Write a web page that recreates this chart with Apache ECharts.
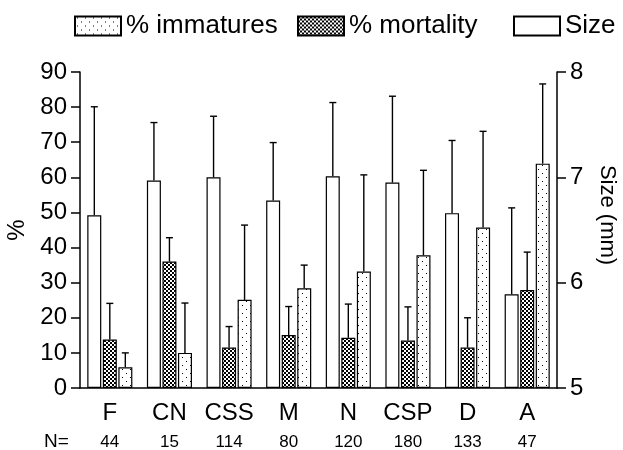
<!DOCTYPE html>
<html>
<head>
<meta charset="utf-8">
<script src="https://cdn.jsdelivr.net/npm/echarts@6/dist/echarts.min.js"></script>
<style>html,body{margin:0;padding:0;background:#fff}#c{width:623px;height:450px}</style>
</head>
<body>
<div id="c"></div>
<script>
var categories = ['F', 'CN', 'CSS', 'M', 'N', 'CSP', 'D', 'A'];
var sampleN = [44, 15, 114, 80, 120, 180, 133, 47];
// Size (mm): mean and SD
var sizeMean = [6.64, 6.97, 7.00, 6.78, 7.01, 6.95, 6.66, 5.89];
var sizeSD   = [1.03, 0.55, 0.58, 0.55, 0.70, 0.82, 0.69, 0.82];
// % mortality: mean and SD
var mortMean = [13.8, 36.0, 11.5, 15.1, 14.3, 13.5, 11.5, 27.9];
var mortSD   = [10.3, 6.8, 6.0, 8.1, 9.6, 9.6, 8.5, 10.8];
// % immatures: mean and SD
var immMean  = [5.9, 10.0, 25.1, 28.4, 33.2, 37.8, 45.7, 63.9];
var immSD    = [4.1, 14.2, 21.3, 6.6, 27.5, 24.2, 27.4, 22.7];
var leftTicks = {min: 0, max: 90, interval: 10};
var rightTicks = {min: 5, max: 8, interval: 1};

var FONT = "'Liberation Sans', Arial, sans-serif";

function makeChecker() {
  var c = document.createElement('canvas');
  c.width = 4; c.height = 4;
  var g = c.getContext('2d');
  g.fillStyle = '#fff'; g.fillRect(0, 0, 4, 4);
  g.fillStyle = '#000';
  g.fillRect(0, 0, 2, 2); g.fillRect(2, 2, 2, 2);
  return c;
}
function makeDots() {
  var c = document.createElement('canvas');
  c.width = 8; c.height = 8;
  var g = c.getContext('2d');
  g.fillStyle = '#fff'; g.fillRect(0, 0, 8, 8);
  g.fillStyle = '#000';
  g.fillRect(2, 1, 1, 1); g.fillRect(6, 5, 1, 1);
  return c;
}
var checkerFill = {image: makeChecker(), repeat: 'repeat'};
var dotFill = {image: makeDots(), repeat: 'repeat'};

var BAR_W = 14, BAR_STEP = 15.5;

function errData(means, sds) {
  return means.map(function (m, i) { return [i, m, m + sds[i]]; });
}
function errSeries(means, sds, k, yAxisIndex) {
  return {
    type: 'custom',
    yAxisIndex: yAxisIndex,
    data: errData(means, sds),
    encode: {x: 0, y: [1, 2]},
    z: 1,
    silent: true,
    renderItem: function (params, api) {
      var i = api.value(0);
      var p0 = api.coord([i, api.value(1)]);
      var p1 = api.coord([i, api.value(2)]);
      var x = p0[0] + k * BAR_STEP;
      var style = {stroke: '#000', lineWidth: 1.4};
      return {
        type: 'group',
        children: [
          {type: 'line', shape: {x1: x, y1: p0[1], x2: x, y2: p1[1]}, style: style},
          {type: 'line', shape: {x1: x - 3.5, y1: p1[1], x2: x + 3.5, y2: p1[1]}, style: style}
        ]
      };
    }
  };
}

var chart = echarts.init(document.getElementById('c'), null, {renderer: 'canvas'});
var barItem = function (fill) {
  return {color: fill, borderColor: '#000', borderWidth: 1.2};
};
var legendCommon = {
  top: 13, padding: 0, itemWidth: 46, itemHeight: 19, itemGap: 5, icon: 'rect',
  textStyle: {fontFamily: FONT, fontSize: 26, color: '#000'},
  selectedMode: false
};
chart.setOption({
  animation: false,
  backgroundColor: '#fff',
  textStyle: {fontFamily: FONT},
  legend: [
    Object.assign({left: 74, data: ['% immatures']}, legendCommon),
    Object.assign({left: 297, data: ['% mortality']}, legendCommon),
    Object.assign({left: 513, data: ['Size']}, legendCommon)
  ],
  grid: {left: 80, right: 66, top: 72, bottom: 62, containLabel: false, outerBoundsMode: 'none'},
  xAxis: {
    type: 'category',
    data: categories,
    axisLine: {lineStyle: {color: '#000', width: 1.5}},
    axisTick: {alignWithLabel: true, length: 9, lineStyle: {color: '#000', width: 1.5}},
    axisLabel: {
      interval: 0, margin: 11, color: '#000',
      formatter: function (v, i) { return '{a|' + v + '}\n{b|' + sampleN[i] + '}'; },
      rich: {
        a: {fontFamily: FONT, fontSize: 24, color: '#000', lineHeight: 28},
        b: {fontFamily: FONT, fontSize: 17, color: '#000', lineHeight: 30}
      }
    }
  },
  yAxis: [
    {
      type: 'value', min: leftTicks.min, max: leftTicks.max, interval: leftTicks.interval,
      position: 'left',
      name: '%', nameLocation: 'middle', nameGap: 49, nameRotate: 90,
      nameTextStyle: {fontFamily: FONT, fontSize: 24, color: '#000'},
      axisLine: {show: true, lineStyle: {color: '#000', width: 1.5}},
      axisTick: {show: true, length: 9, lineStyle: {color: '#000', width: 1.5}},
      axisLabel: {fontFamily: FONT, fontSize: 24, color: '#000', margin: 13},
      splitLine: {show: false}
    },
    {
      type: 'value', min: rightTicks.min, max: rightTicks.max, interval: rightTicks.interval,
      startValue: rightTicks.min,
      position: 'right',
      axisLine: {show: true, lineStyle: {color: '#000', width: 1.5}},
      axisTick: {show: true, length: 9, lineStyle: {color: '#000', width: 1.5}},
      axisLabel: {fontFamily: FONT, fontSize: 24, color: '#000', margin: 13},
      splitLine: {show: false}
    }
  ],
  series: [
    {name: 'Size', type: 'bar', yAxisIndex: 1, data: sizeMean, barWidth: BAR_W, barGap: '11%',
     itemStyle: barItem('#fff'), z: 2},
    {name: '% mortality', type: 'bar', yAxisIndex: 0, data: mortMean, barWidth: BAR_W, barGap: '11%',
     itemStyle: barItem(checkerFill), z: 2},
    {name: '% immatures', type: 'bar', yAxisIndex: 0, data: immMean, barWidth: BAR_W, barGap: '11%',
     itemStyle: barItem(dotFill), z: 2},
    errSeries(sizeMean, sizeSD, -1, 1),
    errSeries(mortMean, mortSD, 0, 0),
    errSeries(immMean, immSD, 1, 0)
  ],
  graphic: [
    {type: 'text', x: 44, y: 442, style: {text: 'N=', font: '19px ' + FONT, fill: '#000', verticalAlign: 'middle'}},
    {type: 'text', x: 607, y: 215, rotation: -Math.PI / 2,
     style: {text: 'Size (mm)', font: '22px ' + FONT, fill: '#000', align: 'center', verticalAlign: 'middle'}}
  ]
});
</script>
</body>
</html>
